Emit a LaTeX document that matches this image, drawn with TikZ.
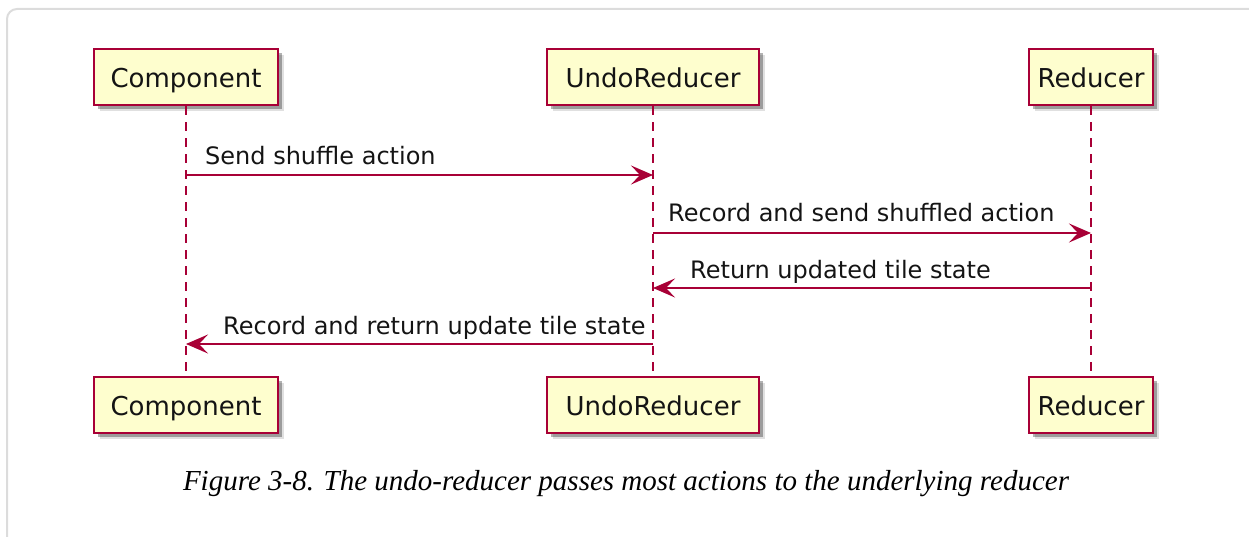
\documentclass[tikz,border=0pt]{standalone}
\usepackage{fontspec}
\setmainfont{Liberation Serif}
\newfontfamily\umlfont{DejaVu Sans}
\usetikzlibrary{arrows.meta,shadows}
\definecolor{umlred}{HTML}{A80036}
\definecolor{umlfill}{HTML}{FEFECE}
\definecolor{framegray}{HTML}{DCDCDC}
\definecolor{umltext}{HTML}{141414}

\begin{document}
\begin{tikzpicture}[x=1pt,y=-1pt,
  actor/.style={draw=umlred, line width=2.6pt, fill=umlfill, minimum height=56pt,
    inner sep=0pt, text height=21pt, text depth=0pt,
    font=\umlfont\fontsize{26}{30}\selectfont, text=umltext,
    general shadow={shadow xshift=6pt, shadow yshift=-6pt, opacity=0.12, fill=black},
    general shadow={shadow xshift=4pt, shadow yshift=-4pt, opacity=0.3, fill=black}},
  life/.style={draw=umlred, line width=1.6pt, dash pattern=on 9pt off 7pt},
  msg/.style={draw=umlred, line width=1.9pt, -{Stealth[length=22pt,width=19pt,inset=9pt]}},
  lbl/.style={font=\umlfont\fontsize{24}{28}\selectfont, text=umltext, inner sep=0pt, anchor=base west},
]
\useasboundingbox (0,0) rectangle (1249,537);
% page frame
\draw[framegray, line width=2pt, rounded corners=10pt] (1300,9) -- (7,9) -- (7,600);

% participants
\node[actor, minimum width=184pt] (compT) at (186,77) {Component};
\node[actor, minimum width=212pt] (undoT) at (653,77) {UndoReducer};
\node[actor, minimum width=124pt] (redT)  at (1091,77) {Reducer};
\node[actor, minimum width=184pt] (compB) at (186,405) {Component};
\node[actor, minimum width=212pt] (undoB) at (653,405) {UndoReducer};
\node[actor, minimum width=124pt] (redB)  at (1091,405) {Reducer};

% lifelines
\draw[life] (compT.south) -- (compB.north);
\draw[life] (undoT.south) -- (undoB.north);
\draw[life] (redT.south) -- (redB.north);

% message rows
\coordinate (m1) at (0,175);
\coordinate (m2) at (0,233);
\coordinate (m3) at (0,288);
\coordinate (m4) at (0,344);

\draw[msg] (compT.south |- m1) -- (undoT.south |- m1);
\draw[msg] (undoT.south |- m2) -- (redT.south |- m2);
\draw[msg] (redT.south |- m3) -- (undoT.south |- m3);
\draw[msg] (undoT.south |- m4) -- (compT.south |- m4);

\node[lbl] (l1) at (205,165) {Send shuffle action};
\node[lbl] (l2) at (668,222) {Record and send shuffled action};
\node[lbl] (l3) at (690,278) {Return updated tile state};
\node[lbl] (l4) at (223,334) {Record and return update tile state};

% caption
\node[font=\itshape\fontsize{29}{34}\selectfont, anchor=base, inner sep=0pt] (cap) at (626,490)
  {Figure 3-8. The undo-reducer passes most actions to the underlying reducer};
\end{tikzpicture}
\end{document}
